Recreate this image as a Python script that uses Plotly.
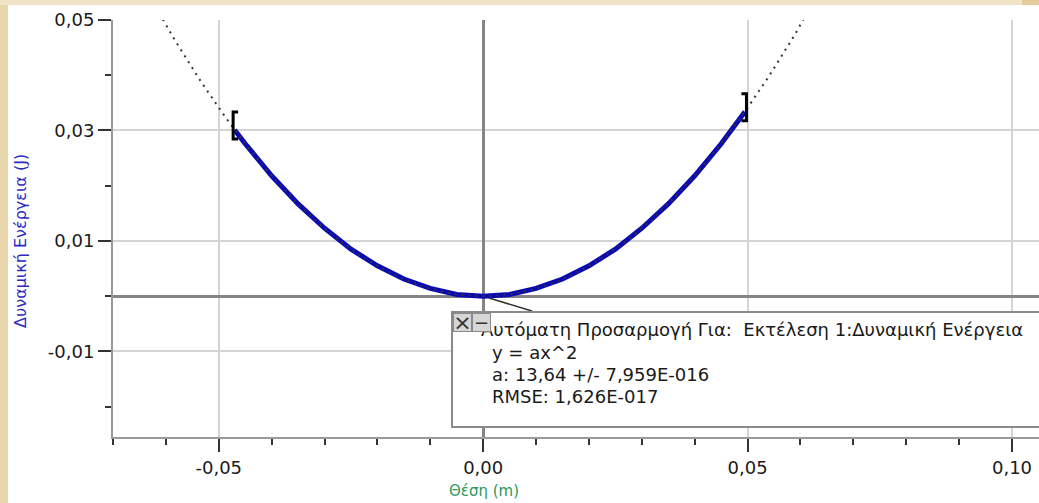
import numpy as np
import plotly.graph_objects as go

# Measured run: position (m) and potential energy (J)
position_m = [-0.0470, -0.0450, -0.0400, -0.0350, -0.0300, -0.0250, -0.0200,
              -0.0150, -0.0100, -0.0050, 0.0000, 0.0050, 0.0100, 0.0150,
              0.0200, 0.0250, 0.0300, 0.0350, 0.0400, 0.0450, 0.0495]
energy_J = [0.0301, 0.0276, 0.0218, 0.0167, 0.0123, 0.0085, 0.0055,
            0.0031, 0.0014, 0.0003, 0.0000, 0.0003, 0.0014, 0.0031,
            0.0055, 0.0085, 0.0123, 0.0167, 0.0218, 0.0276, 0.0334]

# Automatic fit y = a x^2
fit_a = 13.64
fit_a_err = "7,959E-016"
fit_rmse = "1,626E-017"

# Axis ticks
x_tick_vals = [-0.05, 0.00, 0.05, 0.10]
x_tick_text = ["-0,05", "0,00", "0,05", "0,10"]
y_tick_vals = [-0.01, 0.01, 0.03, 0.05]
y_tick_text = ["-0,01", "0,01", "0,03", "0,05"]

X_RANGE = [-0.07, 0.1051]
Y_RANGE = [-0.0255, 0.05]

W, H = 1039, 503
L, R, T, B = 113, 0, 20, 66
PW, PH = W - L - R, H - T - B


def px(x):
    """pixel column -> paper x"""
    return (x - L) / PW


def py(y):
    """pixel row -> paper y"""
    return (H - B - y) / PH


# data units per pixel, for bracket sizing
ux = (X_RANGE[1] - X_RANGE[0]) / PW
uy = (Y_RANGE[1] - Y_RANGE[0]) / PH

FONT = "DejaVu Sans"
TXT = "#1a1a1a"

fig = go.Figure()

fig.add_trace(go.Scatter(
    x=position_m, y=energy_J, mode="lines",
    line=dict(color="#0a0ab4", width=5),
    hoverinfo="skip", showlegend=False,
))

fx = np.linspace(X_RANGE[0], X_RANGE[1], 400)
fig.add_trace(go.Scatter(
    x=fx, y=fit_a * fx ** 2, mode="lines",
    line=dict(color="#333333", width=2, dash="2px,5px"),
    hoverinfo="skip", showlegend=False,
))

shapes = []

# fit range brackets
x_lo, x_hi = position_m[0], position_m[-1]
y_lo, y_hi = energy_J[0], energy_J[-1]
for xe, ye, side in [(x_lo, y_lo, 1), (x_hi, y_hi, -1)]:
    xb = xe - side * 1.5 * ux
    top = ye + 18 * uy
    bot = ye - 9 * uy
    serif = xb + side * 5 * ux
    shapes.append(dict(
        type="path", xref="x", yref="y",
        path=f"M {serif} {top} L {xb} {top} L {xb} {bot} L {serif} {bot}",
        line=dict(color="#000000", width=3), layer="above"))

# callout box
shapes.append(dict(type="line", xref="paper", yref="paper",
                   x0=px(489), y0=py(298), x1=px(532), y1=py(311),
                   line=dict(color="#333333", width=1.5), layer="above"))
shapes.append(dict(type="rect", xref="paper", yref="paper",
                   x0=px(452), y0=py(427), x1=px(1050), y1=py(312),
                   fillcolor="#ffffff", line=dict(color="#8a8a8a", width=2),
                   layer="above"))

# page border strips
shapes.append(dict(type="rect", xref="paper", yref="paper",
                   x0=px(0), x1=px(8), y0=py(H), y1=py(0),
                   fillcolor="#ead6ad", line=dict(width=0), layer="above"))
shapes.append(dict(type="rect", xref="paper", yref="paper",
                   x0=px(0), x1=px(W), y0=py(5), y1=py(0),
                   fillcolor="#f1e3c6", line=dict(width=0), layer="above"))
shapes.append(dict(type="rect", xref="paper", yref="paper",
                   x0=px(1022), x1=px(W), y0=py(5), y1=py(0),
                   fillcolor="#e6cc9a", line=dict(width=0), layer="above"))

annotations = []
box_font = dict(family=FONT, size=18, color=TXT)
annotations.append(dict(
    xref="paper", yref="paper", x=px(479), y=py(329), xanchor="left", yanchor="middle",
    text="Αυτόματη Προσαρμογή Για:  Εκτέλεση 1:Δυναμική Ενέργεια",
    showarrow=False, font=box_font))
for row, line in zip([352, 374, 396],
                     ["y = ax^2", f"a: {fit_a:.2f}".replace(".", ",") + f" +/- {fit_a_err}",
                      f"RMSE: {fit_rmse}"]):
    annotations.append(dict(
        xref="paper", yref="paper", x=px(490), y=py(row), xanchor="left", yanchor="middle",
        text=line, showarrow=False, font=box_font))

# window buttons on the callout
for cx, glyph, size in [(462, "×", 22), (481, "−", 18)]:
    annotations.append(dict(
        xref="paper", yref="paper", x=px(cx), y=py(322.5), xanchor="center", yanchor="middle",
        text=glyph, showarrow=False, width=17, height=17,
        bgcolor="#d6d6d6", bordercolor="#8a8a8a", borderwidth=1, borderpad=0,
        font=dict(family=FONT, size=size, color="#333333")))

# axis titles
annotations.append(dict(
    xref="paper", yref="paper", x=px(20), y=py(241), xanchor="center", yanchor="middle",
    text="Δυναμική Ενέργεια (J)", textangle=-90, showarrow=False,
    font=dict(family=FONT, size=16, color="#2b2bc4")))
annotations.append(dict(
    xref="paper", yref="paper", x=px(484), y=py(491), xanchor="center", yanchor="middle",
    text="Θέση (m)", showarrow=False,
    font=dict(family=FONT, size=15, color="#2a9a5c")))

axis_common = dict(
    tickmode="array", ticks="outside", ticklen=13, tickwidth=2, tickcolor="#333333",
    minor=dict(dtick=0.01, tick0=0, ticks="outside", ticklen=6, tickwidth=2,
               tickcolor="#333333", showgrid=False),
    showgrid=True, gridcolor="#d4d4d4", gridwidth=2,
    zeroline=True, zerolinecolor="#858585", zerolinewidth=3,
    showline=True, linecolor="#9a9a9a", linewidth=2,
    tickfont=dict(family=FONT, size=18, color=TXT),
)

fig.update_layout(
    width=W, height=H, autosize=False,
    margin=dict(l=L, r=R, t=T, b=B, pad=0),
    paper_bgcolor="#ffffff", plot_bgcolor="#ffffff",
    shapes=shapes, annotations=annotations,
    xaxis=dict(range=X_RANGE, tickvals=x_tick_vals, ticktext=x_tick_text, **axis_common),
    yaxis=dict(range=Y_RANGE, tickvals=y_tick_vals, ticktext=y_tick_text, **axis_common),
)

fig.write_html("out.html")
